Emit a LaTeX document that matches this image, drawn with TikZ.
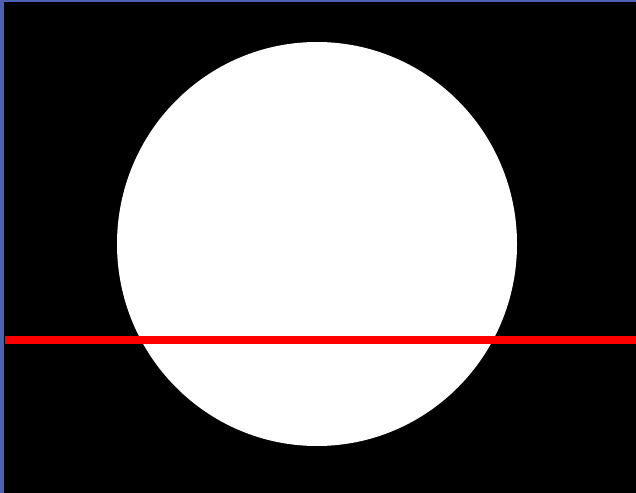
\documentclass[tikz,border=0pt]{standalone}
\usepackage{xcolor}
\usepackage{tikz}
\definecolor{frameblue}{RGB}{80,96,176}

\begin{document}
\begin{tikzpicture}[x=1bp, y=-1bp]
  % background and frame
  \fill[frameblue] (0,0) rectangle (636,493);
  \fill[black] (4,2) rectangle (636,493);
  \useasboundingbox (0,0) rectangle (636,493);

  % disc
  \fill[white] (317,244) ellipse[x radius=200, y radius=202];

  % horizontal line
  \coordinate (l) at (5,340);
  \coordinate (r) at (636,340);
  \draw[red, line width=8bp] (l) -- (r);
\end{tikzpicture}
\end{document}
